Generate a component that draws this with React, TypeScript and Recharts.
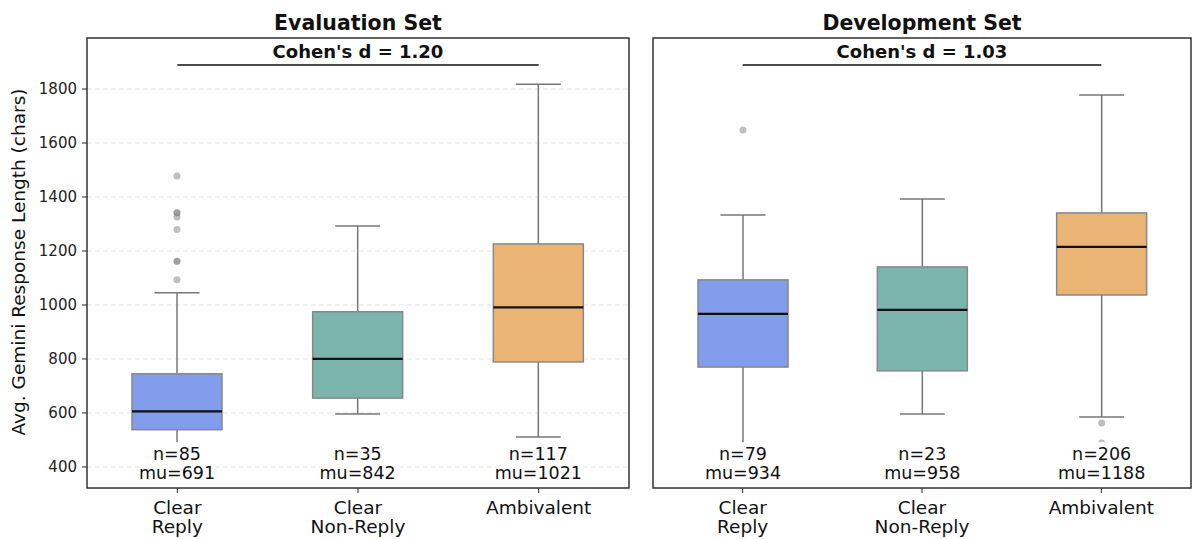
import React from "react";
import { Bar, CartesianGrid, ComposedChart, ReferenceLine, XAxis, YAxis } from "recharts";

// categories and tick labels
const categories = ["Clear Reply", "Clear Non-Reply", "Ambivalent"];
const tickLines = [["Clear", "Reply"], ["Clear", "Non-Reply"], ["Ambivalent"]];
const yTicks = [400, 600, 800, 1000, 1200, 1400, 1600, 1800];

// Evaluation set box stats
const evalLow = [485, 596, 511];
const evalQ1 = [538, 655, 789];
const evalMedian = [606, 800, 991];
const evalQ3 = [745, 975, 1226];
const evalHigh = [1045, 1293, 1818];
const evalOutliers = [[1093, 1162, 1162, 1280, 1326, 1342, 1342, 1478], [], []];
const evalN = [85, 35, 117];
const evalMu = [691, 842, 1021];
const evalCohen = 1.2;

// Development set box stats
const devLow = [470, 596, 585];
const devQ1 = [770, 756, 1037];
const devMedian = [967, 982, 1215];
const devQ3 = [1093, 1141, 1341];
const devHigh = [1333, 1393, 1778];
const devOutliers = [[1648], [], [563, 489]];
const devN = [79, 23, 206];
const devMu = [934, 958, 1188];
const devCohen = 1.03;

const COLORS = ["#819DEB", "#7BB5AD", "#EAB574"];
const Y_DOMAIN = [322, 1989];
const COHEN_Y = 1889;
const N_LABEL_Y = 425;
const MU_LABEL_Y = 355;
const FONT = "DejaVu Sans, sans-serif";

type Row = {
  name: string;
  range: [number, number];
  low: number;
  q1: number;
  median: number;
  q3: number;
  high: number;
  outliers: number[];
  n: number;
  mu: number;
  color: string;
};

function buildRows(low: number[], q1: number[], med: number[], q3: number[], high: number[], out: number[][], n: number[], mu: number[]): Row[] {
  return categories.map((name, i) => ({
    name,
    range: [low[i], high[i]],
    low: low[i],
    q1: q1[i],
    median: med[i],
    q3: q3[i],
    high: high[i],
    outliers: out[i],
    n: n[i],
    mu: mu[i],
    color: COLORS[i]
  }));
}

const evalRows = buildRows(evalLow, evalQ1, evalMedian, evalQ3, evalHigh, evalOutliers, evalN, evalMu);
const devRows = buildRows(devLow, devQ1, devMedian, devQ3, devHigh, devOutliers, devN, devMu);

function BoxShape(props: any) {
  const { x, y, width, height, payload } = props;
  const d: Row = payload;
  const k = height / (d.high - d.low);
  const toY = (v: number) => y + (d.high - v) * k;
  const cx = x + width / 2;
  const cap = width / 4;
  const nText = `n=${d.n}`;
  const muText = `mu=${d.mu}`;
  const bw = Math.max(nText.length, muText.length) * 11 + 6;
  return (
    <g>
      <line x1={cx} x2={cx} y1={toY(d.high)} y2={toY(d.q3)} stroke="#777" strokeWidth={1.5} />
      <line x1={cx} x2={cx} y1={toY(d.q1)} y2={toY(d.low)} stroke="#777" strokeWidth={1.5} />
      <line x1={cx - cap} x2={cx + cap} y1={toY(d.high)} y2={toY(d.high)} stroke="#777" strokeWidth={1.5} />
      <line x1={cx - cap} x2={cx + cap} y1={toY(d.low)} y2={toY(d.low)} stroke="#777" strokeWidth={1.5} />
      <rect x={x} y={toY(d.q3)} width={width} height={toY(d.q1) - toY(d.q3)} fill={d.color} stroke="#888" strokeWidth={1.5} />
      <line x1={x} x2={x + width} y1={toY(d.median)} y2={toY(d.median)} stroke="#111" strokeWidth={2.2} />
      {d.outliers.map((v, i) => (
        <circle key={i} cx={cx} cy={toY(v)} r={3.5} fill="#808080" fillOpacity={0.5} />
      ))}
      <rect x={cx - bw / 2} y={toY(N_LABEL_Y) - 18} width={bw} height={toY(MU_LABEL_Y) - toY(N_LABEL_Y) + 24} fill="#fff" />
      <text x={cx} y={toY(N_LABEL_Y)} textAnchor="middle" fontSize={17.5} fill="#111" fontFamily={FONT}>{nText}</text>
      <text x={cx} y={toY(MU_LABEL_Y)} textAnchor="middle" fontSize={17.5} fill="#111" fontFamily={FONT}>{muText}</text>
    </g>
  );
}

function CatTick(props: any) {
  const { x, y, index } = props;
  const lines = tickLines[index] ?? [];
  return (
    <text x={x} y={y} textAnchor="middle" fontSize={18.5} fill="#111" fontFamily={FONT}>
      {lines.map((l, i) => (
        <tspan key={i} x={x} dy={19}>{l}</tspan>
      ))}
    </text>
  );
}

function Panel({ rows, cohen, showLabels, width, yWidth, right }: { rows: Row[]; cohen: number; showLabels: boolean; width: number; yWidth: number; right: number }) {
  return (
    <ComposedChart width={width} height={539} data={rows} margin={{ top: 38, right, bottom: 0, left: 0 }}>
      <CartesianGrid vertical={false} stroke="#e3e3e3" strokeDasharray="5 3" />
      <XAxis
        dataKey="name"
        height={51}
        tick={<CatTick />}
        tickSize={5}
        tickLine={{ stroke: "#222" }}
        axisLine={false}
        interval={0}
      />
      <YAxis
        type="number"
        domain={Y_DOMAIN}
        ticks={yTicks}
        allowDataOverflow
        width={yWidth}
        axisLine={false}
        tickSize={5}
        tickMargin={5}
        tickLine={{ stroke: "#222" }}
        tick={showLabels ? { fontSize: 15, fill: "#222", fontFamily: FONT } : false}
        label={
          showLabels
            ? {
                content: () => (
                  <text x={25} y={262} transform="rotate(-90 25 262)" textAnchor="middle" fontSize={18.5} fill="#111" fontFamily={FONT}>
                    Avg. Gemini Response Length (chars)
                  </text>
                )
              }
            : undefined
        }
      />
      <Bar dataKey="range" barSize={90} shape={<BoxShape />} isAnimationActive={false} />
      <ReferenceLine
        segment={[
          { x: categories[0], y: COHEN_Y },
          { x: categories[2], y: COHEN_Y }
        ]}
        stroke="#111"
        strokeWidth={1.5}
        ifOverflow="visible"
        label={{
          value: `Cohen's d = ${cohen.toFixed(2)}`,
          position: "top",
          offset: 7,
          style: { fontSize: 18, fontWeight: "bold", fill: "#111", fontFamily: FONT }
        }}
      />
    </ComposedChart>
  );
}

export default function App() {
  return (
    <div style={{ position: "absolute", left: 0, top: 0, width: 1192, height: 539, background: "#fff", fontFamily: FONT }}>
      <div style={{ position: "absolute", left: 0, top: 0 }}>
        <Panel rows={evalRows} cohen={evalCohen} showLabels width={640} yWidth={87} right={11} />
      </div>
      <div style={{ position: "absolute", left: 640, top: 0 }}>
        <Panel rows={devRows} cohen={devCohen} showLabels={false} width={552} yWidth={13} right={1} />
      </div>
      <svg width={1192} height={539} style={{ position: "absolute", left: 0, top: 0, pointerEvents: "none" }}>
        <rect x={87} y={38} width={542} height={450} fill="none" stroke="#333" strokeWidth={1.5} />
        <rect x={653} y={38} width={538} height={450} fill="none" stroke="#333" strokeWidth={1.5} />
        <text x={358} y={30} textAnchor="middle" fontSize={20.5} fontWeight="bold" fill="#111" fontFamily={FONT}>Evaluation Set</text>
        <text x={922} y={30} textAnchor="middle" fontSize={20.5} fontWeight="bold" fill="#111" fontFamily={FONT}>Development Set</text>
      </svg>
    </div>
  );
}
